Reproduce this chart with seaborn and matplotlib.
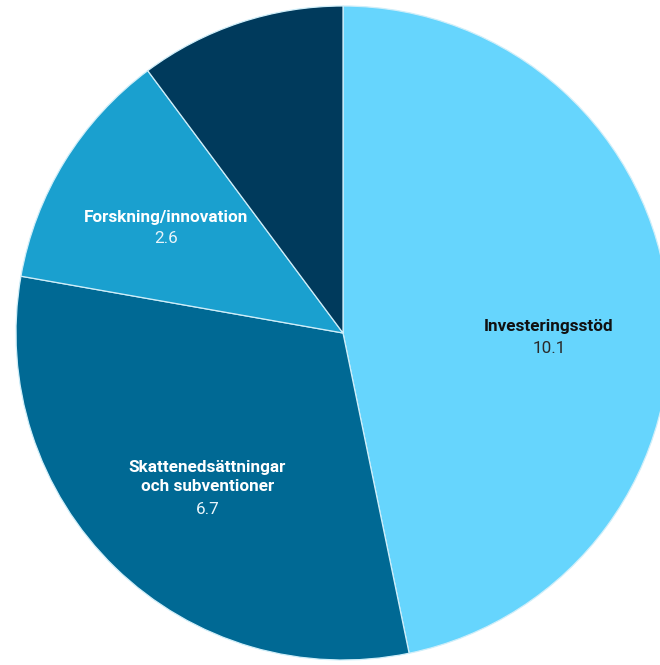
import numpy as np
import matplotlib
matplotlib.use('Agg')
import matplotlib.pyplot as plt
import seaborn as sns

# data
categories = ['Investeringsstöd', 'Skattenedsättningar\noch subventioner', 'Forskning/innovation', 'Övrigt']
values = [10.1, 6.7, 2.6, 2.2]
show_label = [True, True, True, False]
colors = ['#66d5fd', '#006994', '#1aa0cf', '#003a5c']
name_colors = ['#111111', 'white', 'white', 'white']
value_colors = ['#2a2a2a', '#e8f4fa', '#e8f4fa', 'white']
# small angular nudge of the label (degrees) from the wedge middle
nudge = [-7, 3, 1, 0]

sns.set_theme(style='white')
plt.rcParams['font.family'] = ['Roboto', 'DejaVu Sans']

fig = plt.figure(figsize=(6.6, 6.65), dpi=100)
# circle centre ~ (343, 333) px, radius ~327 px
ax = fig.add_axes([16 / 660, 5 / 665, 654 / 660, 654 / 665])

wedges, _ = ax.pie(values, colors=colors, startangle=90, counterclock=False,
                   wedgeprops=dict(edgecolor='#cfeef9', linewidth=0.9))
ax.set_xlim(-1, 1)
ax.set_ylim(-1, 1)
ax.set_aspect('equal')
ax.axis('off')

fs = 12.3
lh = 15.6  # line height in points

for w, name, val, show, nc, vc, nd in zip(wedges, categories, values, show_label,
                                          name_colors, value_colors, nudge):
    if not show:
        continue
    mid = np.deg2rad((w.theta1 + w.theta2) / 2 + nd)
    r = 0.63
    x, y = r * np.cos(mid), r * np.sin(mid)
    n = name.count('\n') + 1
    total = n + 1
    offs = [((total - 1) / 2 - k) * lh for k in range(total)]
    name_off = np.mean(offs[:n])
    ax.annotate(name, (x, y), xytext=(0, name_off), textcoords='offset points',
                ha='center', va='center', fontsize=fs, fontweight='bold',
                color=nc, linespacing=1.3)
    ax.annotate(f'{val}', (x, y), xytext=(0, offs[-1]), textcoords='offset points',
                ha='center', va='center', fontsize=fs, color=vc)

fig.savefig('out.png', dpi=100, facecolor='white')
